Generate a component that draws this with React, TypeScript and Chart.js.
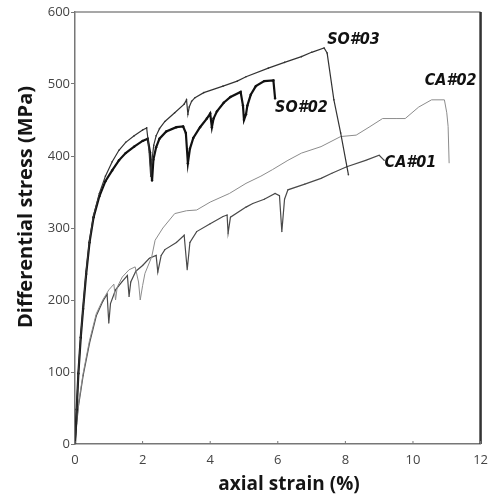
import React, { useEffect, useRef } from "react";
import { Chart, registerables } from "chart.js";

Chart.register(...registerables);

const xTicks = [0, 2, 4, 6, 8, 10, 12];
const yTicks = [0, 100, 200, 300, 400, 500, 600];

const so03X = [0, 0.05, 0.1, 0.17, 0.24, 0.33, 0.43, 0.55, 0.72, 0.9, 1.1, 1.3, 1.5, 1.75, 2.0, 2.12, 2.18, 2.24, 2.28, 2.33, 2.4, 2.5, 2.66, 2.95, 3.23, 3.3, 3.34, 3.38, 3.45, 3.55, 3.81, 4.38, 4.8, 5.06, 5.72, 6.2, 6.7, 7.0, 7.37, 7.46, 7.66, 7.86, 8.09];
const so03Y = [0, 50, 100, 150, 190, 240, 283, 318, 348, 372, 392, 408, 419, 428, 436, 439, 415, 372, 395, 415, 428, 438, 448, 460, 472, 478, 458, 468, 476, 481, 488, 497, 504, 510, 522, 530, 538, 544, 550, 543, 478, 432, 374];

const so02X = [0, 0.05, 0.1, 0.17, 0.24, 0.33, 0.43, 0.55, 0.72, 0.9, 1.1, 1.3, 1.5, 1.75, 2.0, 2.15, 2.22, 2.28, 2.32, 2.4, 2.5, 2.7, 3.0, 3.2, 3.28, 3.34, 3.4, 3.5, 3.7, 3.9, 4.0, 4.05, 4.1, 4.2, 4.4, 4.6, 4.9, 4.97, 5.0, 5.06, 5.1, 5.2, 5.35, 5.6, 5.87, 5.92];
const so02Y = [0, 48, 98, 148, 188, 236, 280, 315, 344, 365, 380, 394, 404, 413, 421, 424, 405, 366, 395, 412, 424, 434, 440, 441, 432, 390, 410, 425, 440, 452, 459, 440, 452, 462, 474, 482, 489, 470, 450, 458, 470, 485, 497, 504, 505, 480];

const ca02X = [0, 0.05, 0.1, 0.24, 0.43, 0.63, 0.82, 1.0, 1.15, 1.2, 1.25, 1.4, 1.6, 1.78, 1.88, 1.93, 2.0, 2.07, 2.27, 2.37, 2.6, 2.95, 3.3, 3.6, 4.0, 4.57, 5.06, 5.5, 5.84, 6.3, 6.7, 7.28, 7.86, 8.32, 8.7, 9.1, 9.5, 9.77, 10.17, 10.55, 10.93, 11.0, 11.04, 11.07];
const ca02Y = [0, 30, 55, 98, 144, 181, 200, 214, 222, 200, 218, 232, 242, 246, 225, 200, 220, 237, 260, 283, 300, 320, 324, 325, 336, 348, 362, 372, 381, 394, 404, 413, 427, 429, 440, 452, 452, 452, 468, 478, 478, 460, 441, 390];

const ca01X = [0, 0.05, 0.1, 0.24, 0.43, 0.63, 0.82, 0.95, 1.0, 1.05, 1.2, 1.4, 1.55, 1.6, 1.65, 1.8, 2.0, 2.2, 2.4, 2.45, 2.55, 2.66, 3.0, 3.23, 3.32, 3.4, 3.6, 4.0, 4.38, 4.5, 4.53, 4.6, 5.06, 5.26, 5.6, 5.92, 6.05, 6.12, 6.2, 6.3, 6.8, 7.28, 7.6, 8.04, 8.6, 9.0, 9.15];
const ca01Y = [0, 28, 52, 95, 140, 178, 198, 208, 168, 195, 214, 226, 234, 205, 225, 240, 248, 258, 262, 239, 262, 270, 280, 290, 242, 280, 295, 306, 316, 318, 293, 315, 329, 334, 340, 348, 345, 295, 340, 353, 361, 369, 376, 385, 394, 401, 394];

const seriesNames = ["SO#03", "SO#02", "CA#02", "CA#01"];
const labelX = [7.46, 5.92, 10.35, 9.16];
const labelY = [562, 467, 505, 390];

const xTitle = "axial strain (%)";
const yTitle = "Differential stress (MPa)";

const toPts = (xs: number[], ys: number[]) => xs.map((x, i) => ({ x, y: ys[i] }));

export default function App() {
  const ref = useRef<HTMLCanvasElement | null>(null);

  useEffect(() => {
    if (!ref.current) return;
    const overlay = {
      id: "overlay",
      afterDraw(chart: any) {
        const { ctx, chartArea, scales } = chart;
        const xs = scales.x;
        const ys = scales.y;
        ctx.save();
        ctx.strokeStyle = "#8a8a8a";
        ctx.lineWidth = 1.5;
        ctx.beginPath();
        ctx.moveTo(chartArea.left, chartArea.top);
        ctx.lineTo(chartArea.right, chartArea.top);
        ctx.stroke();
        ctx.strokeStyle = "#333";
        ctx.lineWidth = 2.5;
        ctx.beginPath();
        ctx.moveTo(chartArea.right, chartArea.top);
        ctx.lineTo(chartArea.right, chartArea.bottom);
        ctx.stroke();
        ctx.strokeStyle = "#777";
        ctx.lineWidth = 1;
        xTicks.forEach((t) => {
          const px = xs.getPixelForValue(t);
          ctx.beginPath();
          ctx.moveTo(px, chartArea.bottom);
          ctx.lineTo(px, chartArea.bottom - 3);
          ctx.stroke();
        });
        ctx.fillStyle = "#111";
        ctx.font = "italic bold 16px 'DejaVu Sans Condensed', 'DejaVu Sans'";
        ctx.textAlign = "left";
        ctx.textBaseline = "middle";
        seriesNames.forEach((n, i) => {
          ctx.fillText(n, xs.getPixelForValue(labelX[i]), ys.getPixelForValue(labelY[i]));
        });
        ctx.fillStyle = "#151515";
        ctx.textAlign = "center";
        ctx.textBaseline = "alphabetic";
        ctx.font = "bold 19px 'Open Sans'";
        ctx.fillText(xTitle, 289, 490);
        ctx.font = "bold 20px 'Open Sans'";
        ctx.translate(32, 207);
        ctx.rotate(-Math.PI / 2);
        ctx.fillText(yTitle, 0, 0);
        ctx.restore();
      },
    };

    const chart = new Chart(ref.current, {
      type: "scatter",
      data: {
        datasets: [
          { label: seriesNames[0], data: toPts(so03X, so03Y), showLine: true, borderColor: "#333", backgroundColor: "#333", borderWidth: 1.2, pointRadius: 0.8, pointBorderWidth: 0 },
          { label: seriesNames[1], data: toPts(so02X, so02Y), showLine: true, borderColor: "#111", backgroundColor: "#111", borderWidth: 2.2, pointRadius: 1.2, pointBorderWidth: 0 },
          { label: seriesNames[2], data: toPts(ca02X, ca02Y), showLine: true, borderColor: "#8c8c8c", backgroundColor: "#8c8c8c", borderWidth: 1, pointRadius: 0 },
          { label: seriesNames[3], data: toPts(ca01X, ca01Y), showLine: true, borderColor: "#4a4a4a", backgroundColor: "#4a4a4a", borderWidth: 1.2, pointRadius: 0.6, pointBorderWidth: 0 },
        ],
      },
      options: {
        animation: false,
        responsive: false,
        maintainAspectRatio: false,
        layout: { padding: { top: 12, right: 6, left: 0, bottom: 0 } },
        plugins: { legend: { display: false }, tooltip: { enabled: false } },
        scales: {
          x: {
            type: "linear",
            min: 0,
            max: 12,
            afterBuildTicks: (s: any) => { s.ticks = xTicks.map((v) => ({ value: v })); },
            afterFit: (s: any) => { s.height = 50; },
            grid: { display: true, drawOnChartArea: false, drawTicks: false },
            border: { display: true, color: "#777", width: 1.5 },
            ticks: { color: "#444", font: { family: "Open Sans", size: 13 }, padding: 8, maxRotation: 0 },
          },
          y: {
            type: "linear",
            min: 0,
            max: 600,
            afterBuildTicks: (s: any) => { s.ticks = yTicks.map((v) => ({ value: v })); },
            afterFit: (s: any) => { s.width = 75; },
            grid: { display: true, drawOnChartArea: false, drawTicks: true, tickLength: 4, color: "#777" },
            border: { display: true, color: "#777", width: 1.5 },
            ticks: { color: "#444", font: { family: "Open Sans", size: 13 }, padding: 1 },
          },
        },
      },
      plugins: [overlay],
    } as any);
    return () => chart.destroy();
  }, []);

  return (
    <div style={{ position: "fixed", left: 0, top: 0, width: 496, height: 494, background: "#fff" }}>
      <canvas ref={ref} width={496} height={494} style={{ width: 496, height: 494 }} />
    </div>
  );
}
